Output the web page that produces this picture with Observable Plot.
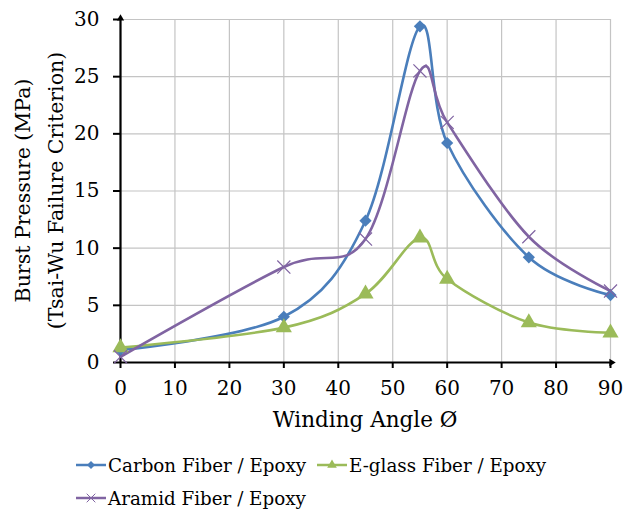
<!DOCTYPE html>
<html>
<head>
<meta charset="utf-8">
<script src="https://cdn.jsdelivr.net/npm/d3@7"></script>
<script src="https://cdn.jsdelivr.net/npm/@observablehq/plot@0.6"></script>
<style>
  body { margin: 0; background: #fff; }
  #chart { width: 635px; }
  .legend { position: relative; width: 635px; height: 69px;
    font-size: 18.3px; color: #000; font-family: "DejaVu Serif", serif; }
  .item { position: absolute; display: flex; align-items: center; height: 33px; white-space: nowrap; }
  .item svg { margin-right: 2px; }
</style>
</head>
<body>
<div id="chart"></div>
<script>
const angles = [0, 30, 45, 55, 60, 75, 90];
const carbon = [1.1, 4.0, 12.4, 29.4, 19.2, 9.2, 5.9];
const eglass = [1.3, 3.05, 6.0, 10.9, 7.3, 3.5, 2.6];
const aramid = [0.5, 8.35, 10.8, 25.5, 21.0, 11.0, 6.25];
const seriesNames = ["Carbon Fiber / Epoxy", "E-glass Fiber / Epoxy", "Aramid Fiber / Epoxy"];
const seriesColors = ["#4a7ebb", "#9bbb59", "#8064a2"];
const xTicks = [0, 10, 20, 30, 40, 50, 60, 70, 80, 90];
const yTicks = [0, 5, 10, 15, 20, 25, 30];
const xLabel = "Winding Angle Ø";
const yLabel1 = "Burst Pressure (MPa)";
const yLabel2 = "(Tsai-Wu Failure Criterion)";

const allValues = [carbon, eglass, aramid];
const rows = [];
allValues.forEach((vals, s) => angles.forEach((a, i) => rows.push({series: seriesNames[s], angle: a, value: vals[i]})));
const bySeries = name => rows.filter(d => d.series === name);

const W = 635, H = 440, ML = 120, MR = 25, MT = 19, MB = 78;
const FONT = "'DejaVu Serif', serif";

const chart = Plot.plot({
  width: W, height: H, marginLeft: ML, marginRight: MR, marginTop: MT, marginBottom: MB,
  style: {fontFamily: FONT, fontSize: "20px", color: "#000", background: "#fff", overflow: "visible"},
  x: {domain: [0, 90], label: null},
  y: {domain: [0, 30], label: null},
  color: {domain: seriesNames, range: seriesColors},
  marks: [
    Plot.gridX(xTicks, {stroke: "#c4c4c4", strokeOpacity: 1, strokeWidth: 1.2}),
    Plot.gridY(yTicks, {stroke: "#c4c4c4", strokeOpacity: 1, strokeWidth: 1.2}),
    Plot.axisX(xTicks, {tickSize: 6, tickPadding: 12, stroke: "#000", strokeWidth: 2, fontSize: 20, fill: "#000"}),
    Plot.axisY(yTicks, {tickSize: 7, tickPadding: 14, stroke: "#000", strokeWidth: 2, fontSize: 20, fill: "#000"}),
    Plot.ruleY([0], {stroke: "#000", strokeWidth: 2.2}),
    Plot.ruleX([0], {stroke: "#000", strokeWidth: 2.2}),
    Plot.dot([{x: 90, y: 0}], {x: "x", y: "y", symbol: "triangle2", rotate: 90, r: 3.5, fill: "#000", stroke: "none", dx: 1}),
    Plot.dot([{x: 0, y: 30}], {x: "x", y: "y", symbol: "triangle2", rotate: 0, r: 3.5, fill: "#000", stroke: "none", dy: -1}),
    Plot.line(rows, {x: "angle", y: "value", stroke: "series", z: "series", curve: "cardinal", tension: 0, strokeWidth: 2.6}),
    Plot.dot(bySeries(seriesNames[0]), {x: "angle", y: "value", symbol: "diamond2", r: 5.5, fill: seriesColors[0], stroke: "none"}),
    Plot.dot(bySeries(seriesNames[1]), {x: "angle", y: "value", symbol: "triangle", r: 6, fill: seriesColors[1], stroke: "none"}),
    Plot.dot(bySeries(seriesNames[2]), {x: "angle", y: "value", symbol: "times", r: 6, fill: "none", stroke: seriesColors[2], strokeWidth: 1.2})
  ]
});

const svg = d3.select(chart);
const cy = MT + (H - MT - MB) / 2;
svg.append("text").attr("transform", `translate(23,${cy}) rotate(-90)`).attr("text-anchor", "middle")
  .attr("dominant-baseline", "central").attr("font-size", 20.5).attr("fill", "#000").text(yLabel1);
svg.append("text").attr("transform", `translate(56,${cy}) rotate(-90)`).attr("text-anchor", "middle")
  .attr("dominant-baseline", "central").attr("font-size", 20.5).attr("fill", "#000").text(yLabel2);
svg.append("text").attr("x", ML + (W - ML - MR) / 2).attr("y", 419).attr("text-anchor", "middle")
  .attr("dominant-baseline", "central").attr("font-size", 21.5).attr("fill", "#000").text(xLabel);

document.getElementById("chart").appendChild(chart);

// legend
const legend = d3.select("#chart").append("div").attr("class", "legend");
const symbols = ["diamond2", "triangle", "times"];
const legendPos = [[76, 8.5], [317, 8.5], [76, 41.5]];
seriesNames.forEach((name, i) => {
  const item = legend.append("div").attr("class", "item")
    .style("left", legendPos[i][0] + "px").style("top", legendPos[i][1] + "px");
  const s = item.append("svg").attr("width", 30).attr("height", 14);
  s.append("line").attr("x1", 0).attr("x2", 30).attr("y1", 7).attr("y2", 7).attr("stroke", seriesColors[i]).attr("stroke-width", 2.5);
  let path;
  if (symbols[i] === "diamond2") path = d3.symbol(d3.symbolDiamond2, 40)();
  else if (symbols[i] === "triangle") path = d3.symbol(d3.symbolTriangle, 40)();
  else path = d3.symbol(d3.symbolTimes, 50)();
  const p = s.append("path").attr("d", path).attr("transform", "translate(15,7)");
  if (symbols[i] === "times") p.attr("fill", "none").attr("stroke", seriesColors[i]).attr("stroke-width", 1);
  else p.attr("fill", seriesColors[i]);
  item.append("span").text(name);
});
</script>
</body>
</html>
